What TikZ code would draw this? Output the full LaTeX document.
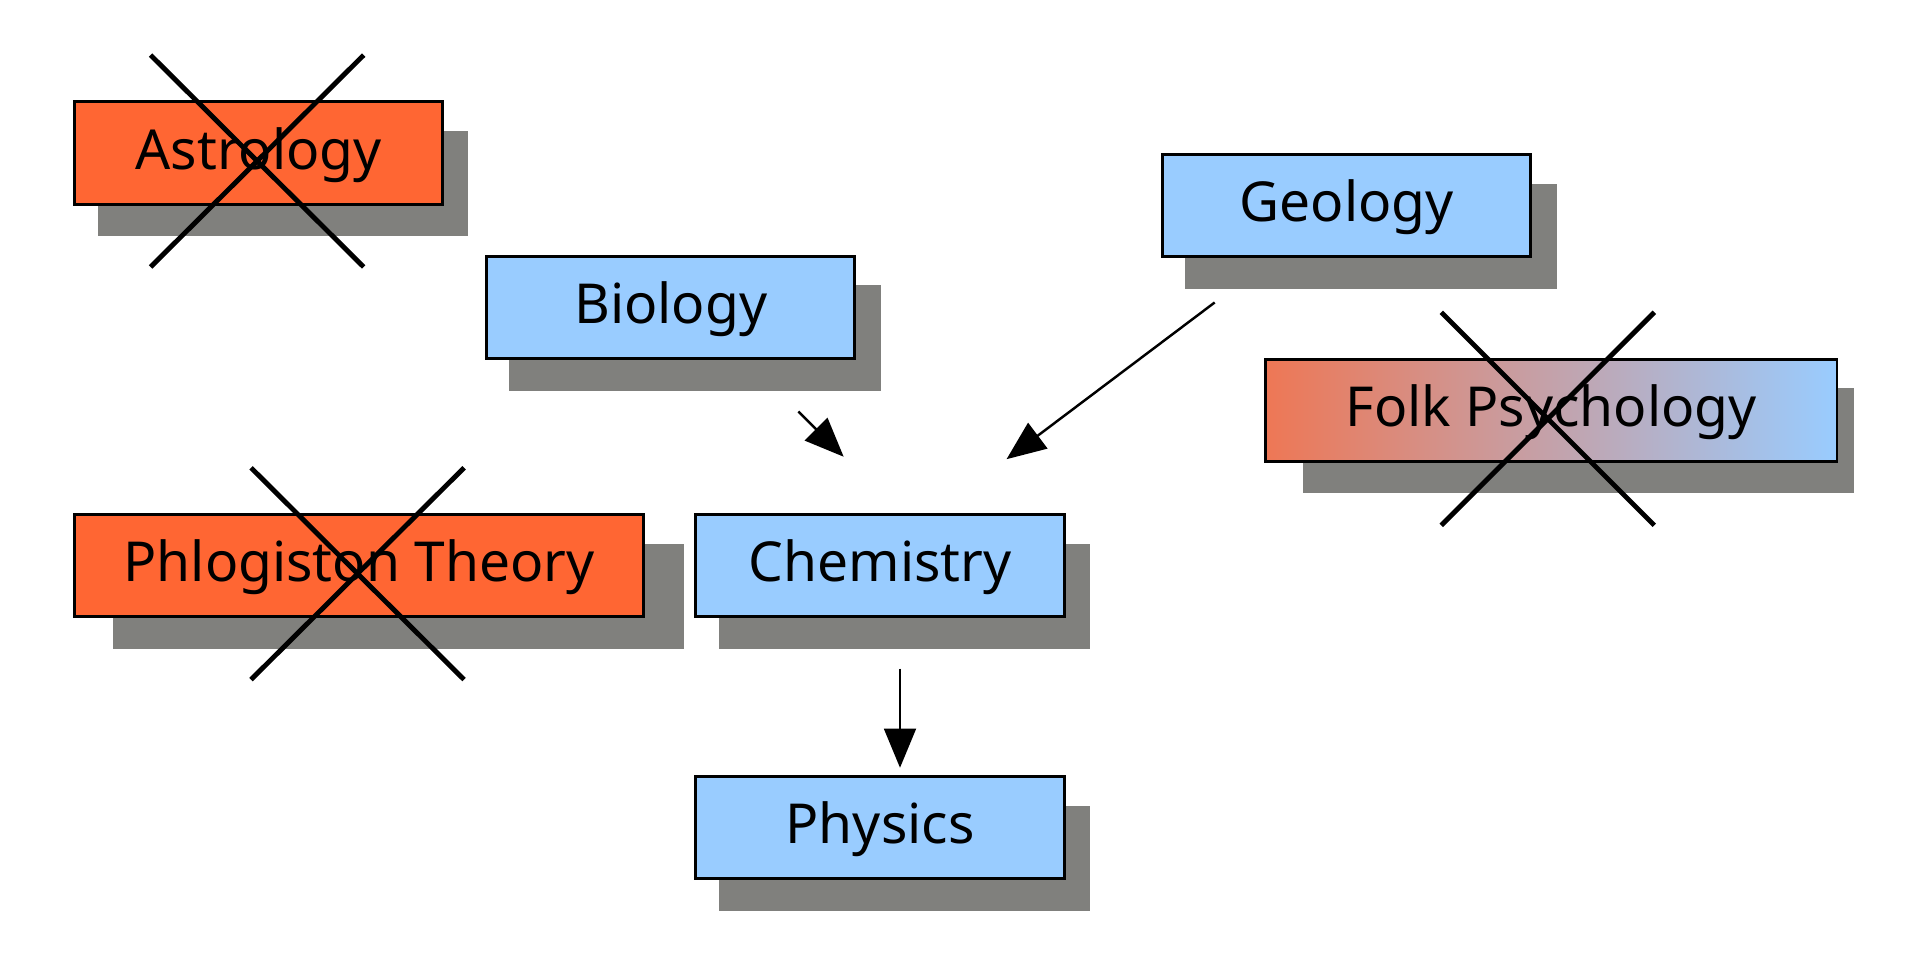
\documentclass[tikz,border=0pt]{standalone}
\usepackage{fontspec}
\setmainfont{Noto Sans}
\usetikzlibrary{arrows.meta,backgrounds}
\definecolor{orangec}{RGB}{255,102,51}
\definecolor{bluec}{RGB}{153,204,255}
\definecolor{folkl}{RGB}{238,119,85}
\definecolor{shadowc}{RGB}{128,128,125}
\begin{document}
\begin{tikzpicture}[x=0.5pt,y=-0.5pt,
  box/.style={draw=black, line width=1.2pt, inner sep=0pt, anchor=north west,
    minimum height=41.75pt, text height=17.6pt, text depth=4.4pt,
    font=\fontsize{22.5}{27}\selectfont},
  sci/.style={box, fill=bluec},
  pseudo/.style={box, fill=orangec},
  shadowbox/.style={fill=shadowc},
  crossline/.style={line width=2pt, draw=black},
  conn/.style={line width=1pt, draw=black, -{Triangle[length=16pt,width=13pt]}}]
\useasboundingbox (0,0) rectangle (1568,784);

% boxes
\node[pseudo, minimum width=150pt] (astro) at (60,82) {Astrology};
\node[sci, minimum width=150.5pt] (bio) at (396,208) {Biology};
\node[sci, minimum width=150.5pt] (geo) at (948,125) {Geology};
\node[box, minimum width=233.5pt, left color=folkl, right color=bluec] (folk) at (1032,292) {Folk Psychology};
\node[pseudo, minimum width=232pt] (phlog) at (60,419) {Phlogiston Theory};
\node[sci, minimum width=150.5pt] (chem) at (567,419) {Chemistry};
\node[sci, minimum width=150.5pt] (phys) at (567,633) {Physics};

% background and shadows
\begin{scope}[on background layer]
  \fill[white] (0,0) rectangle (1568,784);
  \fill[shadowbox] ([shift={(20,25)}]astro.north west) rectangle ([shift={(20,25)}]astro.south east);
  \fill[shadowbox] ([shift={(20,25)}]bio.north west) rectangle ([shift={(20,25)}]bio.south east);
  \fill[shadowbox] ([shift={(20,25)}]geo.north west) rectangle ([shift={(20,25)}]geo.south east);
  \fill[shadowbox] ([shift={(32,25)}]folk.north west) rectangle ([shift={(13,25)}]folk.south east);
  \fill[shadowbox] ([shift={(32,25)}]phlog.north west) rectangle ([shift={(32,25)}]phlog.south east);
  \fill[shadowbox] ([shift={(20,25)}]chem.north west) rectangle ([shift={(20,25)}]chem.south east);
  \fill[shadowbox] ([shift={(20,25)}]phys.north west) rectangle ([shift={(20,25)}]phys.south east);
\end{scope}

% crosses
\draw[crossline] (123,45) -- (297,218);
\draw[crossline] (297,45) -- (123,218);
\draw[crossline] (205,382) -- (379,555);
\draw[crossline] (379,382) -- (205,555);
\draw[crossline] (1177,255) -- (1351,429);
\draw[crossline] (1351,255) -- (1177,429);

% connector end points
\coordinate (bioout) at (652,336);
\coordinate (chemina) at (689,373);
\coordinate (geoout) at (992,247);
\coordinate (cheminb) at (822,375);
\coordinate (chemout) at (735,546);
\coordinate (physin) at (735,627);

\draw[conn] (bioout) -- (chemina);
\draw[conn] (geoout) -- (cheminb);
\draw[conn] (chemout) -- (physin);
\end{tikzpicture}
\end{document}
